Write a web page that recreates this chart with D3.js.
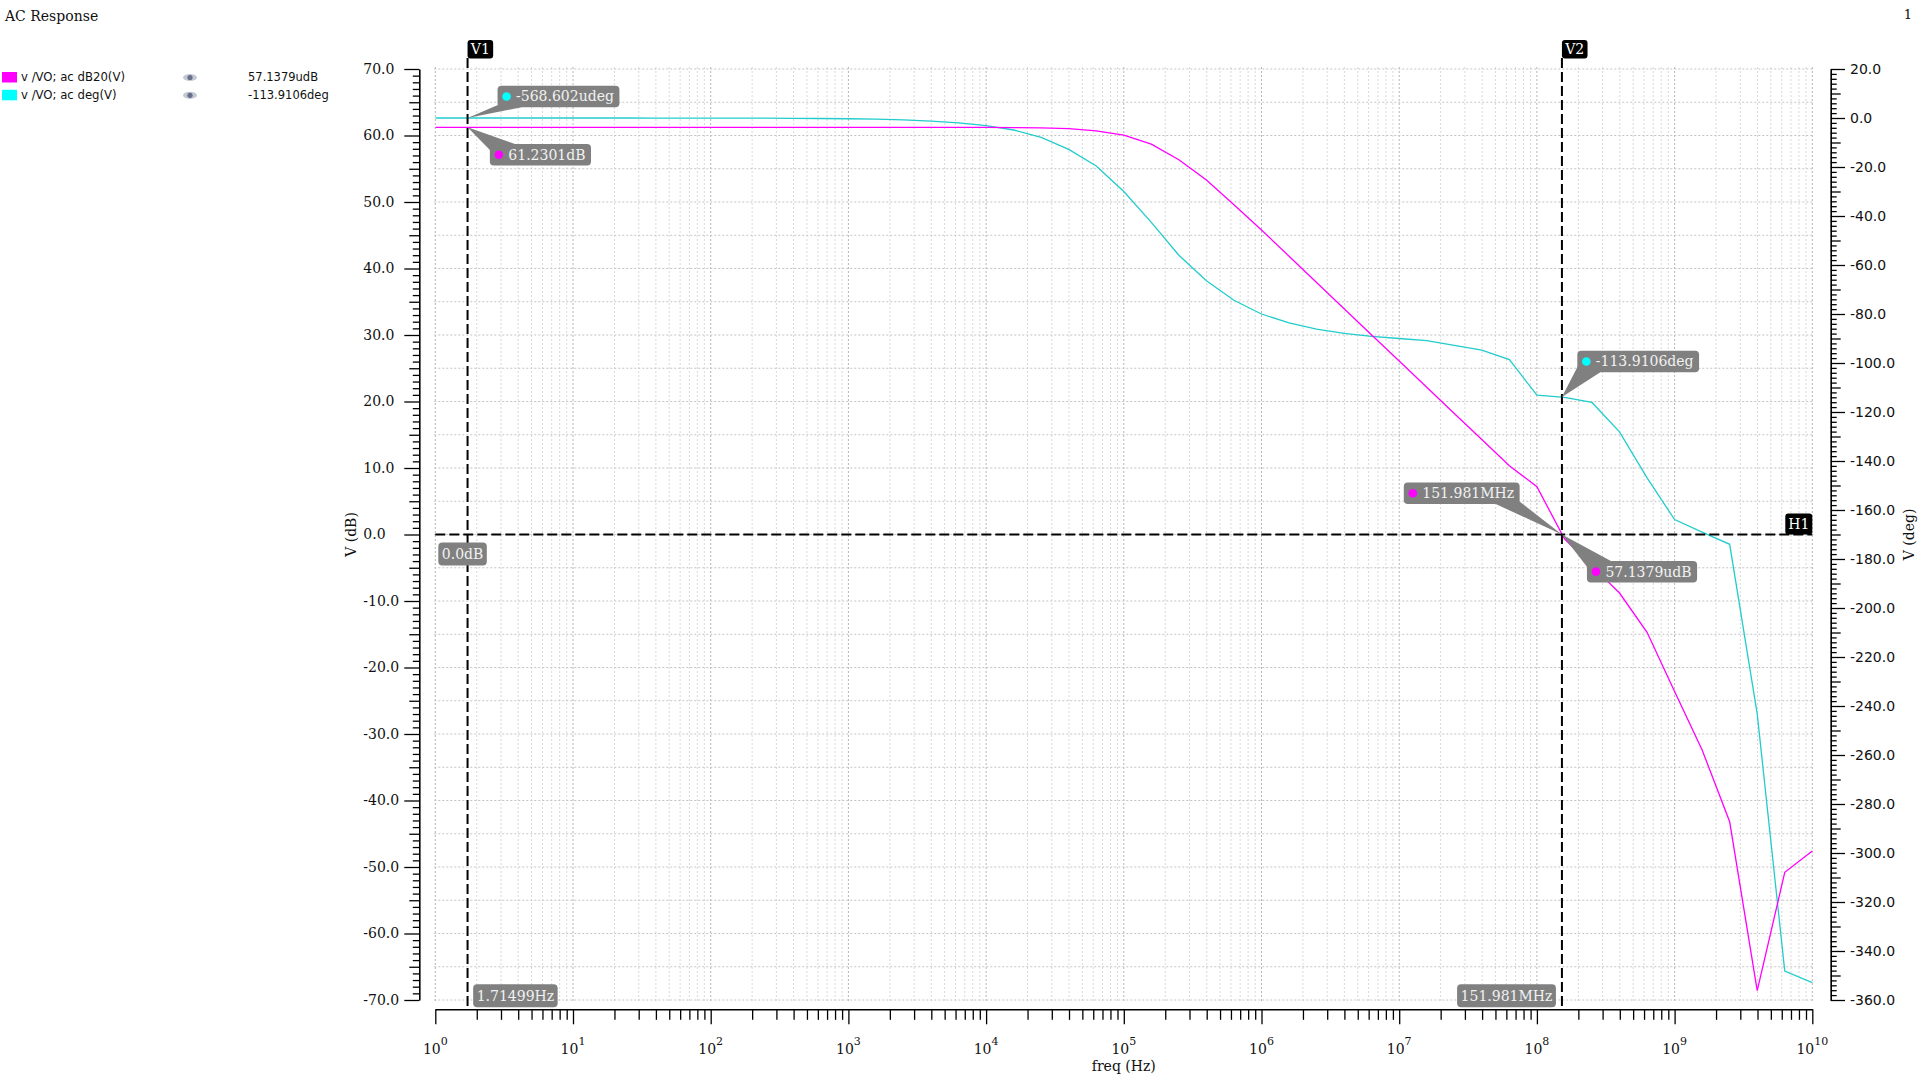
<!DOCTYPE html>
<html><head><meta charset="utf-8">
<script src="https://cdn.jsdelivr.net/npm/d3@7"></script>
<style>
html,body{margin:0;padding:0;background:#fff;}
svg{display:block;}
</style></head>
<body>
<svg id="chart" width="1920" height="1080"></svg>
<script>
// ---------------- data ----------------
const chartTitle = "AC Response";
const pageNumber = "1";
const freqExponents = [0,0.2,0.4,0.6,0.8,1,1.2,1.4,1.6,1.8,2,2.2,2.4,2.6,2.8,3,3.2,3.4,3.6,3.8,4,4.2,4.4,4.6,4.8,5,5.2,5.4,5.6,5.8,6,6.2,6.4,6.6,6.8,7,7.2,7.4,7.6,7.8,8,8.2,8.4,8.6,8.8,9,9.2,9.4,9.6,9.8,10];
const gainDb = [61.23,61.23,61.23,61.23,61.23,61.23,61.23,61.23,61.23,61.23,61.23,61.23,61.23,61.23,61.23,61.23,61.23,61.23,61.23,61.22,61.21,61.19,61.15,61.02,60.7,60.05,58.7,56.35,53.3,49.6,45.8,41.85,37.9,33.95,30.0,26.1,22.15,18.2,14.3,10.35,7.2,-0.65,-4.75,-8.8,-14.7,-23.6,-32.4,-43.2,-68.6,-50.8,-47.6];
const phaseDeg = [-0.0003,-0.0005,-0.0008,-0.0013,-0.002,-0.003,-0.005,-0.008,-0.013,-0.02,-0.03,-0.05,-0.08,-0.13,-0.2,-0.3,-0.5,-0.8,-1.3,-2.0,-3.1,-4.9,-7.9,-12.8,-19.6,-30.0,-42.6,-56.0,-66.4,-74.4,-80.0,-83.6,-86.2,-87.9,-89.1,-90.0,-90.9,-92.8,-94.7,-98.6,-113.1,-114.0,-116.1,-128.1,-146.9,-163.9,-169.0,-174.0,-243.2,-348.2,-352.9];
const seriesNames = ["v /VO; ac dB20(V)", "v /VO; ac deg(V)"];
const seriesReadouts = ["57.1379udB", "-113.9106deg"];
const xTickExponents = [0,1,2,3,4,5,6,7,8,9,10];
const yDbTicks = [70,60,50,40,30,20,10,0,-10,-20,-30,-40,-50,-60,-70];
const yDegTicks = [20,0,-20,-40,-60,-80,-100,-120,-140,-160,-180,-200,-220,-240,-260,-280,-300,-320,-340,-360];
const xAxisTitle = "freq (Hz)";
const yDbTitle = "V (dB)";
const yDegTitle = "V (deg)";
const verticalCursors = [
  {name:"V1", freq:1.71499, label:"1.71499Hz"},
  {name:"V2", freq:151.981e6, label:"151.981MHz"}
];
const horizontalCursors = [{name:"H1", db:0, label:"0.0dB"}];
const markerReadouts = [
  {freq:1.71499, value:-568.602e-6, axis:"deg", text:"-568.602udeg", series:1},
  {freq:1.71499, value:61.2301, axis:"dB", text:"61.2301dB", series:0},
  {freq:151.981e6, value:-113.9106, axis:"deg", text:"-113.9106deg", series:1},
  {freq:151.981e6, value:57.1379e-6, axis:"dB", text:"151.981MHz", series:0},
  {freq:151.981e6, value:57.1379e-6, axis:"dB", text:"57.1379udB", series:0}
];

// ---------------- styles / layout ----------------
const seriesColors = ["#ff00ff", "#22cccc"];
const legendSwatch = ["#ff00ff", "#00ffff"];
const dotColors = ["#ff00ff", "#00ffff"];
const SERIF = "'DejaVu Serif', serif";
const SANS = "'DejaVu Sans', sans-serif";
const P = {left:435.3, right:1812.3, top:69, bottom:1000};
const boxFill = "#808080";
const markerLayout = [
  {bx:30, by:-32.3, align:"left", ptr:b=>[[b.x0+2,b.y1-3],[b.x0+24,b.y1]]},
  {bx:22.3, by:16.7, align:"left", ptr:b=>[[b.x0+1,b.y0+7],[b.x0+25,b.y0]]},
  {bx:15.4, by:-46.4, align:"left", ptr:b=>[[b.x0+1,b.y1-7],[b.x0+23,b.y1]]},
  {bx:-42.3, by:-52, align:"right", ptr:b=>[[b.x1-24,b.y1],[b.x1-2,b.y1-4]]},
  {bx:25, by:26.4, align:"left", ptr:b=>[[b.x0+1,b.y0+7],[b.x0+24,b.y0]]}
];

const svg = d3.select("#chart");
const x = d3.scaleLog().domain([1, 1e10]).range([P.left, P.right]);
const yDb = d3.scaleLinear().domain([-70, 70]).range([P.bottom, P.top]);
const yDeg = d3.scaleLinear().domain([-360, 20]).range([P.bottom, P.top]);

// title
svg.append("text").attr("x", 5).attr("y", 21).attr("font-family", SERIF).attr("font-size", 14)
  .attr("fill", "#111").text(chartTitle);
svg.append("text").attr("x", 1912).attr("y", 19).attr("text-anchor", "end").attr("font-family", SERIF)
  .attr("font-size", 13).attr("fill", "#111").text(pageNumber);

// legend
const legend = svg.append("g");
seriesNames.forEach((n, i) => {
  const cy = [77, 94.8][i];
  legend.append("rect").attr("x", 2).attr("y", cy - 5).attr("width", 15).attr("height", 10.5).attr("fill", legendSwatch[i]);
  legend.append("text").attr("x", 21).attr("y", cy + 4).attr("font-family", SANS).attr("font-size", 11.7)
    .attr("fill", "#111").text(n);
  legend.append("ellipse").attr("cx", 190).attr("cy", cy + 0.5).attr("rx", 7).attr("ry", 3.6).attr("fill", "#c3c8d3");
  legend.append("circle").attr("cx", 190).attr("cy", cy + 0.5).attr("r", 2.6).attr("fill", "#66708a");
  legend.append("text").attr("x", 248).attr("y", cy + 4).attr("font-family", SANS).attr("font-size", 11.5)
    .attr("fill", "#111").text(seriesReadouts[i]);
});

// grid
const grid = svg.append("g");
const minorFreqs = [];
for (let d = 0; d < 10; d++) for (let k = 2; k <= 9; k++) minorFreqs.push(k * Math.pow(10, d));
grid.selectAll("line.vmin").data(minorFreqs).join("line")
  .attr("x1", d => x(d)).attr("x2", d => x(d)).attr("y1", P.top - 2).attr("y2", P.bottom + 1)
  .attr("stroke", "#d9d9d9").attr("stroke-width", 1).attr("stroke-dasharray", "2,2");
grid.selectAll("line.vmaj").data(xTickExponents).join("line")
  .attr("x1", d => x(Math.pow(10, d))).attr("x2", d => x(Math.pow(10, d))).attr("y1", P.top - 2).attr("y2", P.bottom + 1)
  .attr("stroke", "#b4b4b4").attr("stroke-width", 1).attr("stroke-dasharray", "2,2");
grid.selectAll("line.h").data(d3.range(-70, 70.01, 5)).join("line")
  .attr("x1", P.left - 1).attr("x2", P.right).attr("y1", d => yDb(d)).attr("y2", d => yDb(d))
  .attr("stroke", "#c4c4c4").attr("stroke-width", 1).attr("stroke-dasharray", "2,2");

// curves
svg.append("clipPath").attr("id", "clip").append("rect")
  .attr("x", P.left).attr("y", P.top - 5).attr("width", P.right - P.left + 1).attr("height", P.bottom - P.top + 10);
const curves = svg.append("g").attr("clip-path", "url(#clip)");
const gainLine = d3.line().x((d, i) => x(Math.pow(10, freqExponents[i]))).y(d => yDb(d));
const phaseLine = d3.line().x((d, i) => x(Math.pow(10, freqExponents[i]))).y(d => yDeg(d));
curves.append("path").datum(phaseDeg).attr("d", phaseLine).attr("fill", "none")
  .attr("stroke", seriesColors[1]).attr("stroke-width", 1.3);
curves.append("path").datum(gainDb).attr("d", gainLine).attr("fill", "none")
  .attr("stroke", seriesColors[0]).attr("stroke-width", 1.3);

// cursors
const cur = svg.append("g");
horizontalCursors.forEach(h => {
  const yy = yDb(h.db);
  cur.append("line").attr("x1", P.left).attr("x2", P.right).attr("y1", yy).attr("y2", yy)
    .attr("stroke", "#000").attr("stroke-width", 2).attr("stroke-dasharray", "10,4");
});
verticalCursors.forEach(v => {
  const xx = x(v.freq);
  cur.append("line").attr("x1", xx).attr("x2", xx).attr("y1", 58).attr("y2", P.bottom + 9)
    .attr("stroke", "#000").attr("stroke-width", 2).attr("stroke-dasharray", "10,4");
});

function valueBox(g, x0, y0, text, anchorRight, h) {
  const t = g.append("text").attr("font-family", SERIF).attr("font-size", 14).attr("fill", "#f2f2f2").text(text);
  const w = t.node().getComputedTextLength() + 7;
  const bx = anchorRight ? x0 - w : x0;
  g.insert("rect", "text").attr("x", bx).attr("y", y0).attr("width", w).attr("height", h).attr("rx", 4)
    .attr("fill", boxFill);
  t.attr("x", bx + 3.5).attr("y", y0 + h / 2 + 5);
}
function tagBox(g, x0, y0, text, w, h) {
  g.append("rect").attr("x", x0).attr("y", y0).attr("width", w).attr("height", h).attr("rx", 3).attr("fill", "#000");
  g.append("text").attr("x", x0 + w / 2).attr("y", y0 + h / 2 + 5).attr("text-anchor", "middle")
    .attr("font-family", SERIF).attr("font-size", 14).attr("fill", "#fff").text(text);
}
// cursor tags and readouts
verticalCursors.forEach((v, i) => {
  const xx = x(v.freq);
  tagBox(cur.append("g"), xx, 40, v.name, 25.6, 18.5);
  if (i === 0) valueBox(cur.append("g"), xx + 5.6, P.bottom + 7.3 - 23, v.label, false, 23);
  else valueBox(cur.append("g"), xx - 6, P.bottom + 7.3 - 23, v.label, true, 23);
});
horizontalCursors.forEach(h => {
  const yy = yDb(h.db);
  tagBox(cur.append("g"), P.right - 27, yy - 21, h.name, 27, 21);
  valueBox(cur.append("g"), P.left + 3, yy + 8, h.label, false, 23);
});

// marker readouts
const mk = svg.append("g");
markerReadouts.forEach((m, i) => {
  const L = markerLayout[i];
  const px = x(m.freq), py = (m.axis === "dB" ? yDb : yDeg)(m.value);
  const g = mk.append("g");
  const t = g.append("text").attr("font-family", SERIF).attr("font-size", 14).attr("fill", "#f2f2f2").text(m.text);
  const tw = t.node().getComputedTextLength();
  const w = 19 + tw + 5, h = 21.5;
  const x0 = L.align === "left" ? px + L.bx : px + L.bx - w;
  const y0 = py + L.by;
  const b = {x0:x0, y0:y0, x1:x0 + w, y1:y0 + h};
  const pp = L.ptr(b);
  g.insert("polygon", "text").attr("points", [[px, py], pp[0], pp[1]].map(p => p.join(",")).join(" "))
    .attr("fill", boxFill);
  g.insert("rect", "text").attr("x", x0).attr("y", y0).attr("width", w).attr("height", h).attr("rx", 4)
    .attr("fill", boxFill);
  g.insert("circle", "text").attr("cx", x0 + 9).attr("cy", y0 + h / 2).attr("r", 4.3).attr("fill", dotColors[m.series]);
  t.attr("x", x0 + 18.5).attr("y", y0 + h / 2 + 5);
});

// axes
function styleAxis(g) {
  g.select(".domain").attr("stroke", "#000").attr("stroke-width", 1.6);
  g.selectAll(".tick line").attr("stroke", "#000").attr("stroke-width", 1.3);
}
// left dB axis
const gl = svg.append("g").attr("transform", "translate(419.3,0)");
gl.call(d3.axisLeft(yDb).tickValues(yDbTicks).tickSize(15).tickSizeOuter(0).tickFormat(d => d.toFixed(1)));
gl.call(styleAxis);
gl.selectAll(".tick text").attr("x", -56).attr("text-anchor", "start").attr("font-family", SERIF)
  .attr("font-size", 14).attr("fill", "#111");
const glMed = svg.append("g").attr("transform", "translate(419.3,0)");
glMed.call(d3.axisLeft(yDb).tickValues(d3.range(-65, 70, 10)).tickSize(10).tickSizeOuter(0).tickFormat(""));
glMed.select(".domain").remove(); glMed.selectAll(".tick line").attr("stroke", "#000").attr("stroke-width", 1.3);
const glMin = svg.append("g").attr("transform", "translate(419.3,0)");
glMin.call(d3.axisLeft(yDb).tickValues(d3.range(-70, 70.01, 1).filter(v => v % 5 !== 0)).tickSize(6.5).tickSizeOuter(0).tickFormat(""));
glMin.select(".domain").remove(); glMin.selectAll(".tick line").attr("stroke", "#000").attr("stroke-width", 1.3);

// right deg axis
const gr = svg.append("g").attr("transform", "translate(1830.7,0)");
gr.call(d3.axisRight(yDeg).tickValues(yDegTicks).tickSize(14.3).tickPadding(5).tickSizeOuter(0).tickFormat(d => d.toFixed(1)));
gr.call(styleAxis);
gr.selectAll(".tick text").attr("font-family", SANS).attr("font-size", 14).attr("fill", "#111");
const grMed = svg.append("g").attr("transform", "translate(1830.7,0)");
grMed.call(d3.axisRight(yDeg).tickValues(d3.range(-350, 20, 20)).tickSize(10).tickSizeOuter(0).tickFormat(""));
grMed.select(".domain").remove(); grMed.selectAll(".tick line").attr("stroke", "#000").attr("stroke-width", 1.3);
const grMin = svg.append("g").attr("transform", "translate(1830.7,0)");
grMin.call(d3.axisRight(yDeg).tickValues(d3.range(-360, 20.01, 2).filter(v => v % 10 !== 0)).tickSize(6).tickSizeOuter(0).tickFormat(""));
grMin.select(".domain").remove(); grMin.selectAll(".tick line").attr("stroke", "#000").attr("stroke-width", 1.3);

// bottom freq axis
const gb = svg.append("g").attr("transform", "translate(0,1009.3)");
gb.call(d3.axisBottom(x).tickValues(xTickExponents.map(e => Math.pow(10, e))).tickSize(15).tickSizeOuter(0).tickFormat(""));
gb.call(styleAxis);
const gbMin = svg.append("g").attr("transform", "translate(0,1009.3)");
gbMin.call(d3.axisBottom(x).tickValues(minorFreqs).tickSize(10.5).tickSizeOuter(0).tickFormat(""));
gbMin.select(".domain").remove(); gbMin.selectAll(".tick line").attr("stroke", "#000").attr("stroke-width", 1.3);
xTickExponents.forEach(e => {
  const t = svg.append("text").attr("x", x(Math.pow(10, e))).attr("y", 1054.3).attr("text-anchor", "middle")
    .attr("font-family", SERIF).attr("font-size", 14).attr("fill", "#111");
  t.append("tspan").text("10");
  t.append("tspan").attr("dy", -9).attr("font-size", 11).text(String(e));
});

// axis titles
svg.append("text").attr("x", (P.left + P.right) / 2).attr("y", 1071).attr("text-anchor", "middle")
  .attr("font-family", SERIF).attr("font-size", 14).attr("fill", "#111").text(xAxisTitle);
svg.append("text").attr("transform", `translate(351,${(P.top + P.bottom) / 2}) rotate(-90)`).attr("text-anchor", "middle")
  .attr("dy", "0.35em").attr("font-family", SERIF).attr("font-size", 14).attr("fill", "#111").text(yDbTitle);
svg.append("text").attr("transform", `translate(1909,${(P.top + P.bottom) / 2}) rotate(-90)`).attr("text-anchor", "middle")
  .attr("dy", "0.35em").attr("font-family", SERIF).attr("font-size", 14).attr("fill", "#111").text(yDegTitle);
</script>
</body></html>
